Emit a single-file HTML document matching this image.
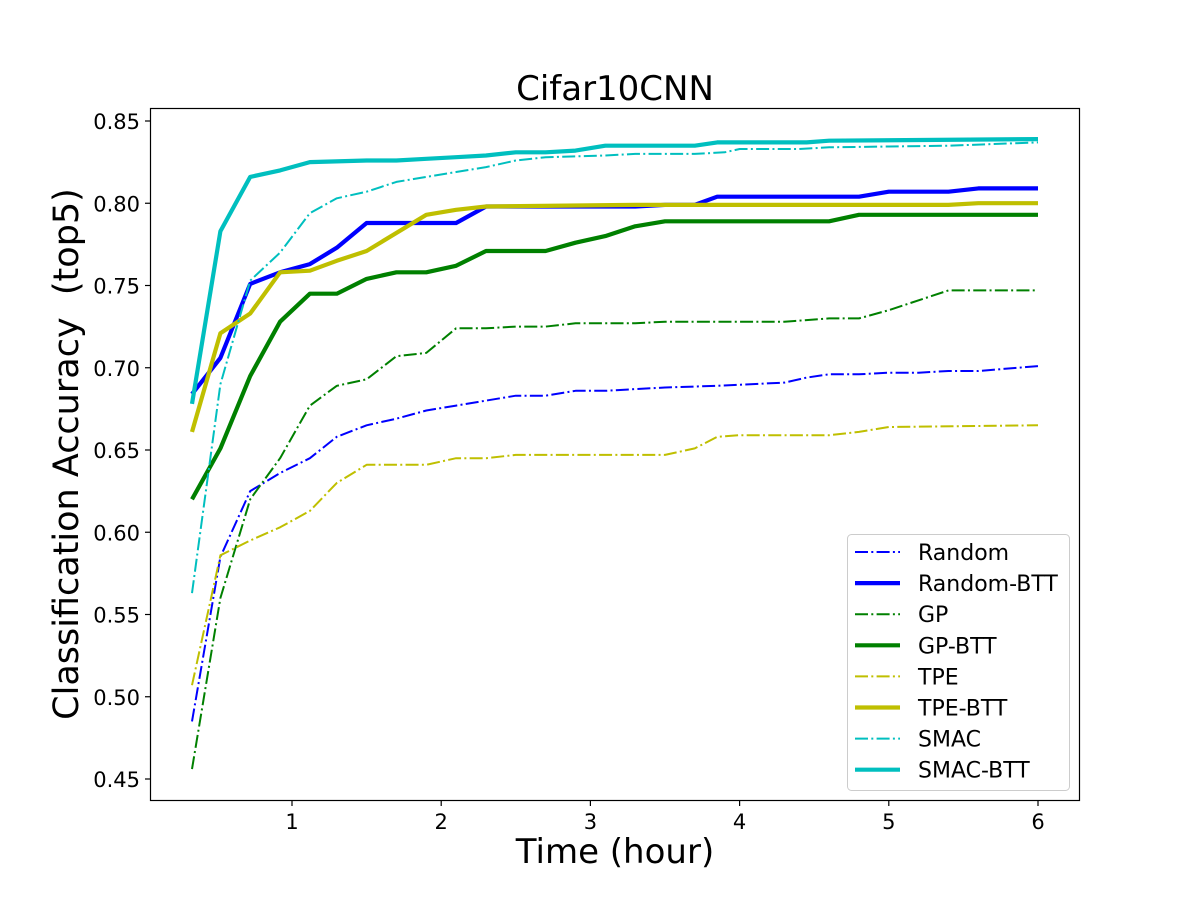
<!DOCTYPE html>
<html><head><meta charset="utf-8"><style>body{margin:0;background:#fff}svg{display:block;font-family:"DejaVu Sans","Liberation Sans",sans-serif}</style></head>
<body>
<svg id="chart" width="1200" height="900" viewBox="0 0 1200 900" xmlns="http://www.w3.org/2000/svg">
<rect width="1200" height="900" fill="#fff"/>
<g id="plot"></g>
<rect x="150.5" y="108.5" width="929" height="692" fill="none" stroke="#000" stroke-width="1.2"/>
<g id="axes"></g>
<text x="615" y="100" font-size="34" text-anchor="middle">Cifar10CNN</text>
<text x="615" y="863" font-size="34" text-anchor="middle">Time (hour)</text>
<text x="0" y="0" font-size="35" text-anchor="middle" xml:space="preserve" transform="translate(78,454) rotate(-90)">Classification Accuracy  (top5)</text>
<g id="legend"></g>
</svg>
<script>
const xTicks=[1,2,3,4,5,6];
const yTicks=[0.45,0.50,0.55,0.60,0.65,0.70,0.75,0.80,0.85];
const names=["Random","Random-BTT","GP","GP-BTT","TPE","TPE-BTT","SMAC","SMAC-BTT"];
const colors=["#0000ff","#0000ff","#008000","#008000","#bfbf00","#bfbf00","#00bfbf","#00bfbf"];
const randomT=[0.33,0.52,0.72,0.92,1.12,1.3,1.5,1.7,1.9,2.1,2.3,2.5,2.7,2.9,3.1,3.3,3.5,3.85,4.3,4.45,4.6,4.8,5.0,5.2,5.4,5.6,6];
const randomV=[0.485,0.585,0.625,0.636,0.645,0.658,0.665,0.669,0.674,0.677,0.680,0.683,0.683,0.686,0.686,0.687,0.688,0.689,0.691,0.694,0.696,0.696,0.697,0.697,0.698,0.698,0.701];
const randomBttT=[0.33,0.52,0.72,0.92,1.12,1.3,1.5,2.1,2.3,3.3,3.5,3.7,3.85,4.8,5.0,5.4,5.6,6];
const randomBttV=[0.684,0.706,0.751,0.758,0.763,0.773,0.788,0.788,0.798,0.798,0.799,0.799,0.804,0.804,0.807,0.807,0.809,0.809];
const gpT=[0.33,0.52,0.72,0.92,1.12,1.3,1.5,1.7,1.9,2.1,2.3,2.5,2.7,2.9,3.3,3.5,4.3,4.6,4.8,5.0,5.4,6];
const gpV=[0.456,0.560,0.620,0.645,0.677,0.689,0.693,0.707,0.709,0.724,0.724,0.725,0.725,0.727,0.727,0.728,0.728,0.730,0.730,0.735,0.747,0.747];
const gpBttT=[0.33,0.52,0.72,0.92,1.12,1.3,1.5,1.7,1.9,2.1,2.3,2.7,2.9,3.1,3.3,3.5,4.6,4.8,6];
const gpBttV=[0.620,0.651,0.695,0.728,0.745,0.745,0.754,0.758,0.758,0.762,0.771,0.771,0.776,0.780,0.786,0.789,0.789,0.793,0.793];
const tpeT=[0.33,0.52,0.72,0.92,1.12,1.3,1.5,1.9,2.1,2.3,2.5,3.5,3.7,3.85,4.0,4.6,4.8,5.0,6];
const tpeV=[0.507,0.586,0.595,0.603,0.613,0.630,0.641,0.641,0.645,0.645,0.647,0.647,0.651,0.658,0.659,0.659,0.661,0.664,0.665];
const tpeBttT=[0.33,0.52,0.72,0.92,1.12,1.3,1.5,1.7,1.9,2.1,2.3,3.3,5.4,5.6,6];
const tpeBttV=[0.661,0.721,0.733,0.758,0.759,0.765,0.771,0.782,0.793,0.796,0.798,0.799,0.799,0.800,0.800];
const smacT=[0.33,0.52,0.72,0.92,1.12,1.3,1.5,1.7,1.9,2.1,2.3,2.5,2.7,3.1,3.3,3.7,3.9,4.0,4.4,4.6,5.4,6];
const smacV=[0.563,0.690,0.753,0.770,0.794,0.803,0.807,0.813,0.816,0.819,0.822,0.826,0.828,0.829,0.830,0.830,0.831,0.833,0.833,0.834,0.835,0.837];
const smacBttT=[0.33,0.52,0.72,0.92,1.12,1.5,1.7,1.9,2.1,2.3,2.5,2.7,2.9,3.1,3.7,3.85,4.45,4.6,6];
const smacBttV=[0.678,0.783,0.816,0.820,0.825,0.826,0.826,0.827,0.828,0.829,0.831,0.831,0.832,0.835,0.835,0.837,0.837,0.838,0.839];
const seriesT=[randomT,randomBttT,gpT,gpBttT,tpeT,tpeBttT,smacT,smacBttT];
const seriesV=[randomV,randomBttV,gpV,gpBttV,tpeV,tpeBttV,smacV,smacBttV];

const NS="http://www.w3.org/2000/svg";
const X=t=>142.8+t*149.2;
const Y=v=>121+(0.85-v)/0.05*82.25;
function mk(tag,attrs,parent){const e=document.createElementNS(NS,tag);for(const k in attrs)e.setAttribute(k,attrs[k]);parent.appendChild(e);return e;}
const axes=document.getElementById('axes'),plot=document.getElementById('plot'),legend=document.getElementById('legend');
xTicks.forEach(t=>{
  const l=mk('line',{x1:X(t),x2:X(t),y1:801,y2:806,stroke:'#000','stroke-width':1.2},axes);
  
  
  const tx=mk('text',{x:X(t),y:829,'font-size':21,'text-anchor':'middle'},axes);tx.textContent=t;
  
  
});
yTicks.forEach(v=>{
  const l=mk('line',{x1:145,x2:150,y1:Y(v),y2:Y(v),stroke:'#000','stroke-width':1.2},axes);
  
  
  const tx=mk('text',{x:140,y:Y(v)+8,'font-size':21,'text-anchor':'end'},axes);tx.textContent=v.toFixed(2);
  
  
});
const dash="13,3.3,2,3.3";
names.forEach((n,i)=>{
  const solid=i%2===1;
  const pts=seriesT[i].map((t,j)=>X(t).toFixed(1)+','+Y(seriesV[i][j]).toFixed(1)).join(' ');
  const a={points:pts,fill:'none',stroke:colors[i],'stroke-width':solid?4.2:2,'stroke-linejoin':'round'};
  if(!solid)a['stroke-dasharray']=dash;
  const pl=mk('polyline',a,plot);
  
  
});
const box=mk('rect',{x:847.5,y:534.5,width:222,height:256,rx:4,fill:'#fff','fill-opacity':0.8,stroke:'#ccc','stroke-width':1},legend);


names.forEach((n,i)=>{
  const y=552+i*31.1;
  const solid=i%2===1;
  const a={x1:855,x2:900,y1:y,y2:y,stroke:colors[i],'stroke-width':solid?4.2:2};
  if(!solid)a['stroke-dasharray']=dash;
  const l=mk('line',a,legend);
  
  
  const tx=mk('text',{x:918,y:y+8,'font-size':22},legend);tx.textContent=n;
  
  
});
</script>
</body></html>
